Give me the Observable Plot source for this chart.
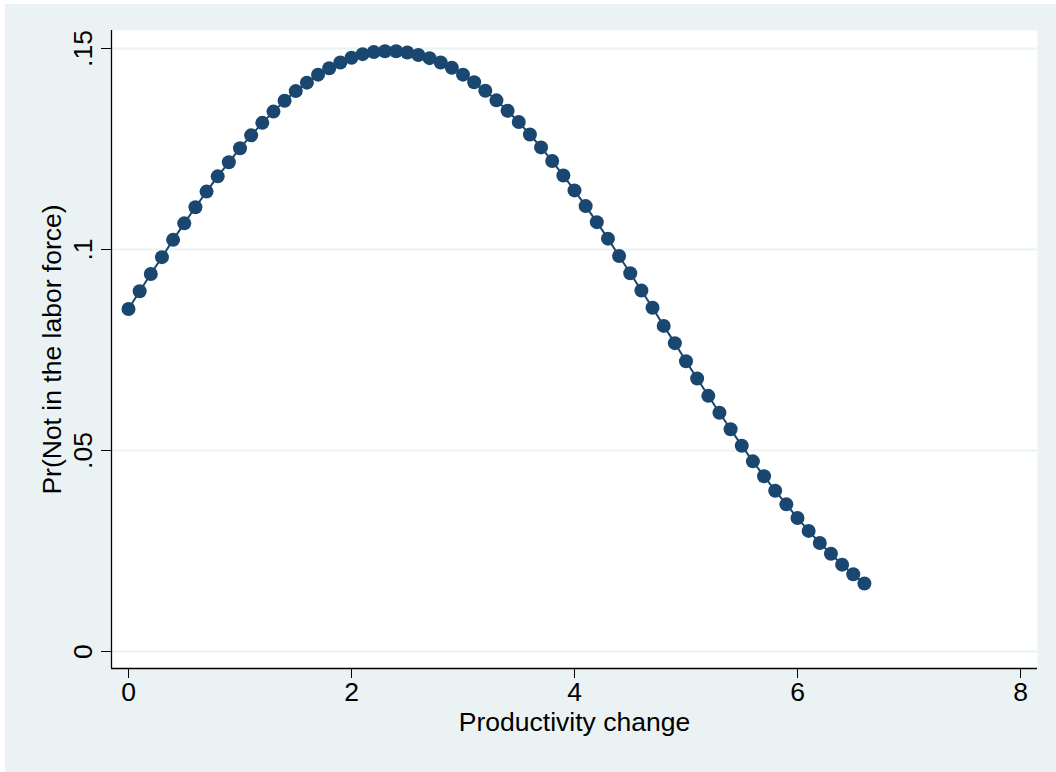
<!DOCTYPE html>
<html>
<head>
<meta charset="utf-8">
<script src="https://cdn.jsdelivr.net/npm/d3@7"></script>
<script src="https://cdn.jsdelivr.net/npm/@observablehq/plot@0.6"></script>
<style>
  html, body { margin: 0; padding: 0; background: #ffffff; }
  #chart { padding-left: 5px; padding-top: 4px; width: 1051px; height: 768px; }
</style>
</head>
<body>
<div id="chart"></div>
<script>
// Productivity change (x) and predicted Pr(Not in the labor force) (y)
const productivity = [
  0.0, 0.1, 0.2, 0.3, 0.4, 0.5, 0.6, 0.7, 0.8, 0.9,
  1.0, 1.1, 1.2, 1.3, 1.4, 1.5, 1.6, 1.7, 1.8, 1.9,
  2.0, 2.1, 2.2, 2.3, 2.4, 2.5, 2.6, 2.7, 2.8, 2.9,
  3.0, 3.1, 3.2, 3.3, 3.4, 3.5, 3.6, 3.7, 3.8, 3.9,
  4.0, 4.1, 4.2, 4.3, 4.4, 4.5, 4.6, 4.7, 4.8, 4.9,
  5.0, 5.1, 5.2, 5.3, 5.4, 5.5, 5.6, 5.7, 5.8, 5.9,
  6.0, 6.1, 6.2, 6.3, 6.4, 6.5, 6.6
];
const prNotInLaborForce = [
  0.0852, 0.0896, 0.0939, 0.0981, 0.1024, 0.1065, 0.1105, 0.1144, 0.1182, 0.1217,
  0.1252, 0.1284, 0.1315, 0.1343, 0.1370, 0.1394, 0.1415, 0.1435, 0.1451, 0.1465,
  0.1477, 0.1486, 0.1491, 0.1493, 0.1493, 0.1490, 0.1484, 0.1476, 0.1465, 0.1452,
  0.1435, 0.1416, 0.1395, 0.1371, 0.1345, 0.1317, 0.1286, 0.1254, 0.1220, 0.1184,
  0.1147, 0.1108, 0.1068, 0.1027, 0.0984, 0.0941, 0.0898, 0.0855, 0.0810, 0.0767,
  0.0722, 0.0679, 0.0636, 0.0594, 0.0553, 0.0512, 0.0473, 0.0436, 0.0400, 0.0366,
  0.0332, 0.0300, 0.0270, 0.0243, 0.0216, 0.0192, 0.0169
];
const xTicks = [0, 2, 4, 6, 8];
const yTicks = [0, 0.05, 0.1, 0.15];
const yTickLabels = ["0", ".05", ".1", ".15"];
const xTitle = "Productivity change";
const yTitle = "Pr(Not in the labor force)";

const data = productivity.map((x, i) => ({x, y: prNotInLaborForce[i]}));

const navy = "#1A476F";
const bg = "#EAF2F3";
const font = "'Liberation Sans', Arial, Helvetica, sans-serif";
const fs = 26.5;

const chart = Plot.plot({
  width: 1051,
  height: 768,
  marginLeft: 106,
  marginRight: 19,
  marginTop: 26,
  marginBottom: 104,
  style: {background: bg, fontFamily: font, fontSize: fs + "px", color: "#000", overflow: "visible"},
  x: {domain: [0, 8], insetLeft: 17, insetRight: 17},
  y: {domain: [0, 0.15], insetTop: 18, insetBottom: 17},
  marks: [
    Plot.frame({fill: "white", stroke: null}),
    Plot.gridY(yTicks, {stroke: bg, strokeOpacity: 1, strokeWidth: 2}),
    Plot.ruleX([0], {dx: -17, stroke: "#000", strokeWidth: 1.3}),
    Plot.ruleY([0], {dy: 17, stroke: "#000", strokeWidth: 1.3}),
    Plot.axisX(xTicks, {
      tickSize: 10, tickPadding: 4, fontSize: fs, stroke: "#000", fill: "#000",
      tickFormat: d => String(d), label: null
    }),
    Plot.axisY(yTicks, {
      tickSize: 10, tickPadding: 10, tickRotate: -90, fontSize: fs, stroke: "#000", fill: "#000",
      tickFormat: d => yTickLabels[yTicks.indexOf(d)], label: null
    }),
    Plot.text([yTitle], {
      frameAnchor: "left", rotate: -90, textAnchor: "middle", lineAnchor: "bottom",
      dx: -51, fontSize: fs, fill: "#000"
    }),
    Plot.text([xTitle], {
      frameAnchor: "bottom", textAnchor: "middle", lineAnchor: "middle",
      dy: 54, fontSize: fs, fill: "#000"
    }),
    Plot.line(data, {x: "x", y: "y", stroke: navy, strokeWidth: 2}),
    Plot.dot(data, {x: "x", y: "y", r: 7, fill: navy, stroke: null})
  ]
});
document.getElementById("chart").appendChild(chart);
</script>
</body>
</html>
